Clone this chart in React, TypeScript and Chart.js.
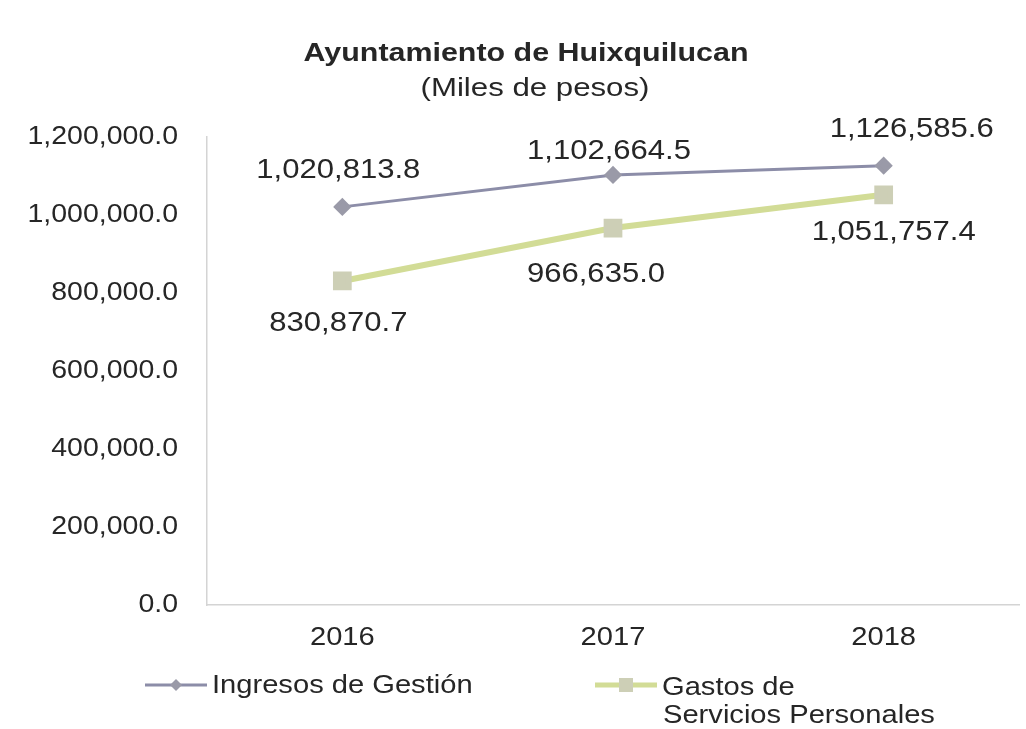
import React, { useEffect, useRef } from "react";
import { Chart, registerables } from "chart.js";

Chart.register(...registerables);

const years = ["2016", "2017", "2018"];
const ingresos = [1020813.8, 1102664.5, 1126585.6];
const gastos = [830870.7, 966635.0, 1051757.4];
const yMin = 0;
const yMax = 1200000;
const yStep = 200000;
const seriesNames = ["Ingresos de Gestión", "Gastos de Servicios Personales"];
const legendLines2 = ["Gastos de", "Servicios Personales"];
const titleText = "Ayuntamiento de Huixquilucan";
const subtitleText = "(Miles de pesos)";

const FONT = "'Liberation Sans', Arial, sans-serif";
const TEXT = "#262626";
const C_ING_LINE = "#8C8DA8";
const C_ING_PT = "#9A9AA8";
const C_GAS_LINE = "#D2DC96";
const C_GAS_PT = "#CDCFB6";
const AXIS = "#D4D4D4";

const fmt = (v: number) =>
  v.toLocaleString("en-US", { minimumFractionDigits: 1, maximumFractionDigits: 1 });

function txt(
  ctx: CanvasRenderingContext2D,
  s: string,
  x: number,
  y: number,
  font: string,
  align: CanvasTextAlign,
  sx = 1.13
) {
  ctx.save();
  ctx.font = font;
  ctx.fillStyle = TEXT;
  ctx.textBaseline = "middle";
  ctx.textAlign = align;
  ctx.translate(x, y);
  ctx.scale(sx, 1);
  ctx.fillText(s, 0, 0);
  ctx.restore();
}

const textPlugin = {
  id: "customText",
  afterDraw(chart: any) {
    const ctx: CanvasRenderingContext2D = chart.ctx;
    // title
    txt(ctx, titleText, 526, 54, `bold 26px ${FONT}`, "center", 1.17);
    txt(ctx, subtitleText, 535, 89, `26px ${FONT}`, "center", 1.2);
    // y ticks
    const ys = chart.scales.y;
    ys.ticks.forEach((t: any) => {
      txt(ctx, fmt(t.value), 178, ys.getPixelForValue(t.value), `25px ${FONT}`, "right", 1.14);
    });
    // x ticks
    const xs = chart.scales.x;
    years.forEach((lab, i) => {
      txt(ctx, lab, xs.getPixelForTick(i), 638, `26px ${FONT}`, "center", 1.12);
    });
    // data labels
    const m0 = chart.getDatasetMeta(0);
    const m1 = chart.getDatasetMeta(1);
    ingresos.forEach((v, i) => {
      const p = m0.data[i];
      txt(ctx, fmt(v), p.x + (i === 2 ? 28 : -4), p.y - (i === 1 ? 23 : 36), `27px ${FONT}`, "center", 1.15);
    });
    gastos.forEach((v, i) => {
      const p = m1.data[i];
      txt(ctx, fmt(v), p.x + (i === 2 ? 10 : i === 1 ? -17 : -4), p.y + (i === 2 ? 38 : i === 1 ? 47 : 43), `27px ${FONT}`, "center", 1.15);
    });
    // legend
    ctx.save();
    ctx.strokeStyle = C_ING_LINE;
    ctx.lineWidth = 3;
    ctx.beginPath();
    ctx.moveTo(145, 685);
    ctx.lineTo(207, 685);
    ctx.stroke();
    ctx.fillStyle = C_ING_PT;
    ctx.beginPath();
    ctx.moveTo(176, 679);
    ctx.lineTo(182, 685);
    ctx.lineTo(176, 691);
    ctx.lineTo(170, 685);
    ctx.closePath();
    ctx.fill();
    ctx.strokeStyle = C_GAS_LINE;
    ctx.lineWidth = 5;
    ctx.beginPath();
    ctx.moveTo(595, 685);
    ctx.lineTo(657, 685);
    ctx.stroke();
    ctx.fillStyle = C_GAS_PT;
    ctx.fillRect(619, 678, 14, 14);
    ctx.restore();
    txt(ctx, seriesNames[0], 212, 686, `26px ${FONT}`, "left", 1.12);
    txt(ctx, legendLines2[0], 662, 688, `26px ${FONT}`, "left", 1.12);
    txt(ctx, legendLines2[1], 663, 716, `26px ${FONT}`, "left", 1.12);
  },
};

export default function App() {
  const ref = useRef<HTMLCanvasElement | null>(null);
  useEffect(() => {
    if (!ref.current) return;
    const chart = new Chart(ref.current, {
      type: "line",
      data: {
        labels: years,
        datasets: [
          {
            label: seriesNames[0],
            data: ingresos,
            borderColor: C_ING_LINE,
            backgroundColor: C_ING_PT,
            borderWidth: 3,
            pointStyle: "rectRot",
            pointRadius: 7,
            pointBackgroundColor: C_ING_PT,
            pointBorderColor: C_ING_PT,
            tension: 0,
          },
          {
            label: seriesNames[1],
            data: gastos,
            borderColor: C_GAS_LINE,
            backgroundColor: C_GAS_PT,
            borderWidth: 6,
            pointStyle: "rect",
            pointRadius: 9,
            pointBackgroundColor: C_GAS_PT,
            pointBorderColor: C_GAS_PT,
            tension: 0,
          },
        ],
      },
      options: {
        animation: false,
        responsive: false,
        maintainAspectRatio: false,
        devicePixelRatio: 1,
        layout: { padding: { left: 207, right: 0, top: 137, bottom: 124 } },
        plugins: {
          legend: { display: false },
          title: { display: false },
          tooltip: { enabled: false },
        },
        scales: {
          x: {
            type: "category",
            offset: true,
            grid: { display: false },
            ticks: { display: false },
            border: { display: true, color: AXIS, width: 1.5 },
            afterFit: (s: any) => {
              s.height = 0;
            },
          },
          y: {
            min: yMin,
            max: yMax,
            ticks: { display: false, stepSize: yStep },
            grid: { display: false },
            border: { display: true, color: AXIS, width: 1.5 },
            afterFit: (s: any) => {
              s.width = 0;
            },
          },
        },
      },
      plugins: [textPlugin],
    });
    return () => chart.destroy();
  }, []);
  return (
    <div
      style={{
        position: "fixed",
        left: 0,
        top: 0,
        width: 1026,
        height: 729,
        overflow: "hidden",
        background: "#fff",
      }}
    >
      <canvas ref={ref} width={1034} height={729} style={{ display: "block" }} />
    </div>
  );
}
